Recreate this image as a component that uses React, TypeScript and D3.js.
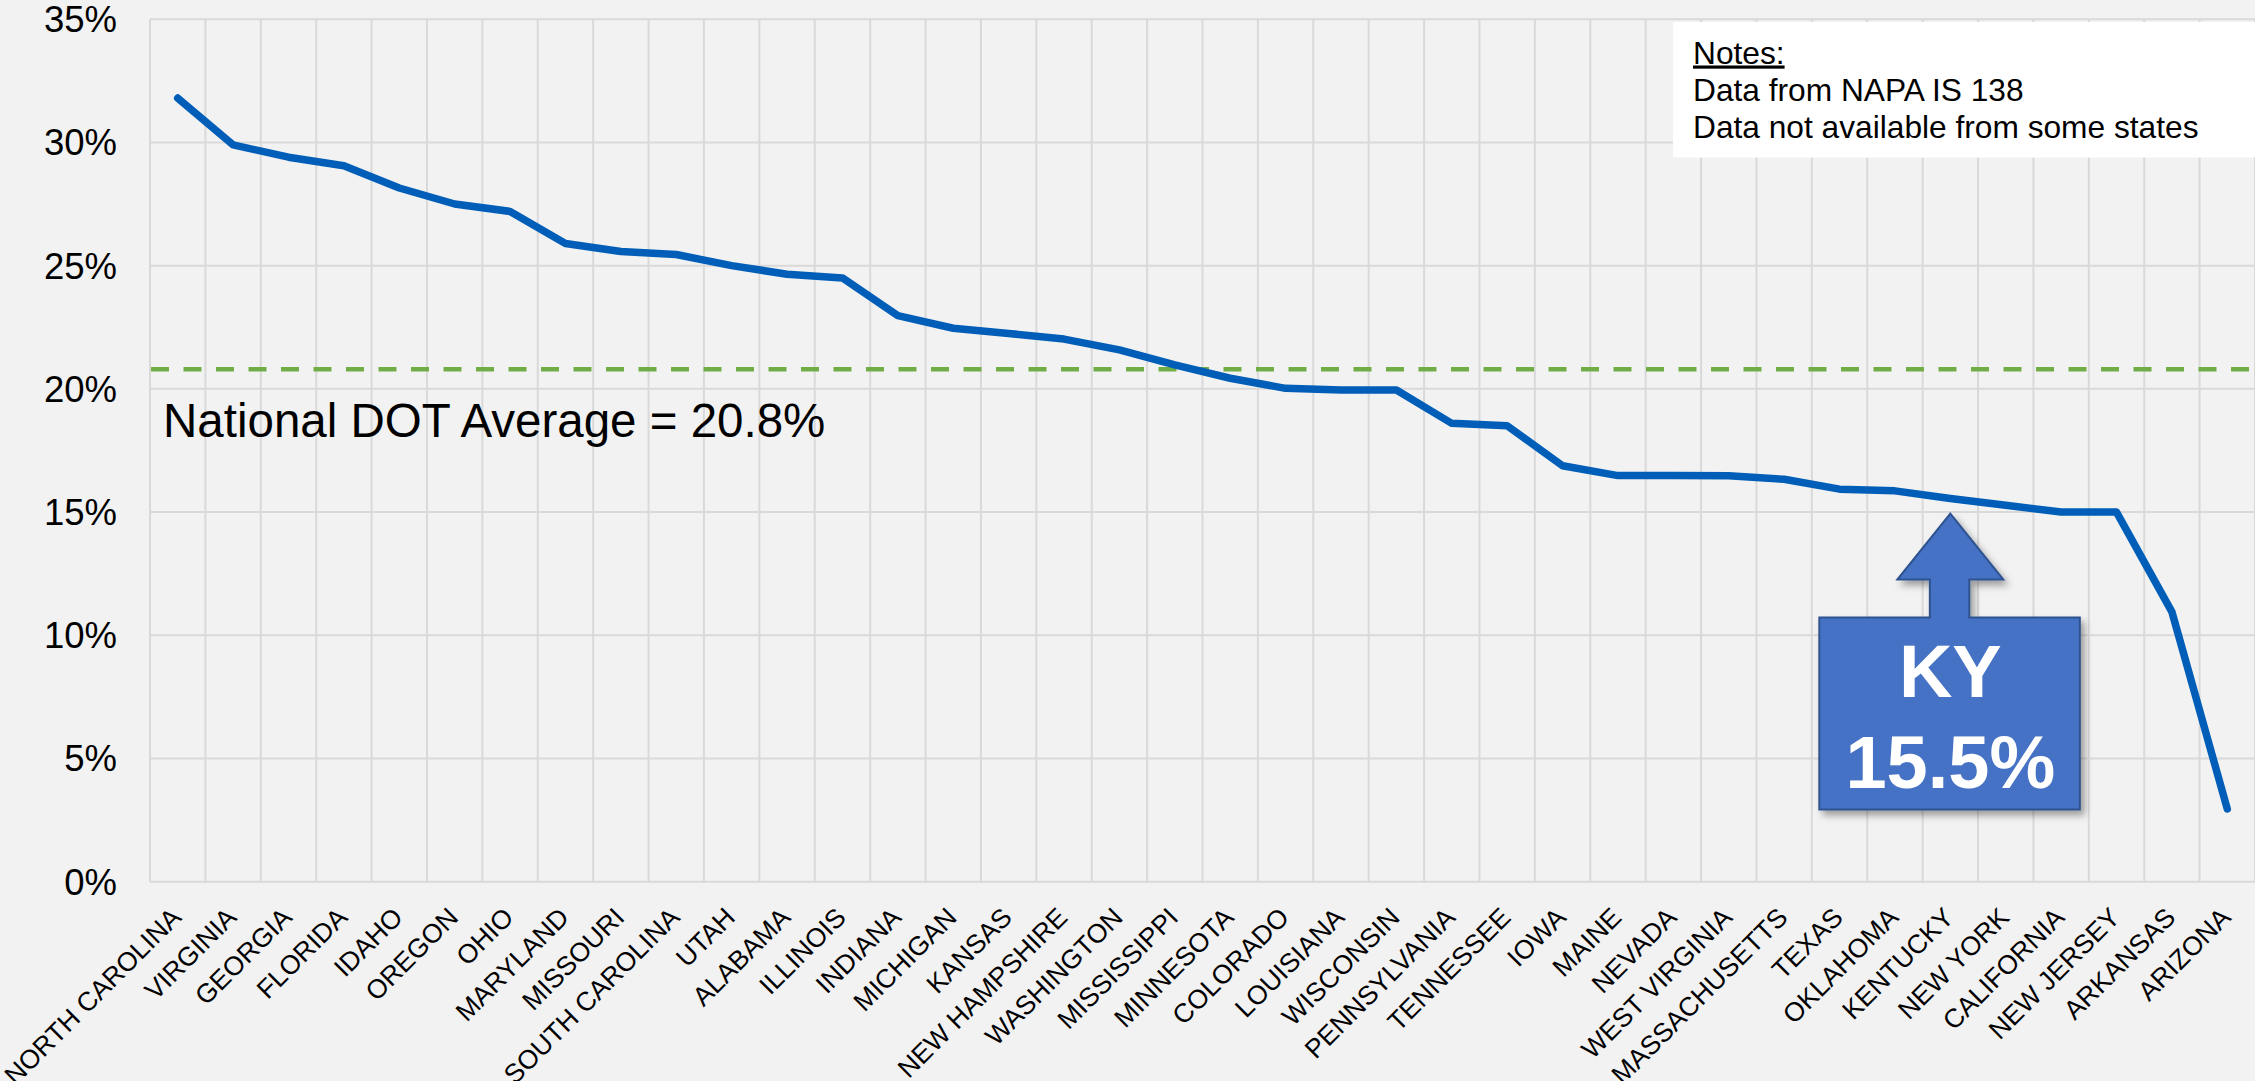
import React, { useEffect } from "react";
import * as d3 from "d3";

const states = [
  "NORTH CAROLINA", "VIRGINIA", "GEORGIA", "FLORIDA", "IDAHO", "OREGON", "OHIO",
  "MARYLAND", "MISSOURI", "SOUTH CAROLINA", "UTAH", "ALABAMA", "ILLINOIS", "INDIANA",
  "MICHIGAN", "KANSAS", "NEW HAMPSHIRE", "WASHINGTON", "MISSISSIPPI", "MINNESOTA",
  "COLORADO", "LOUISIANA", "WISCONSIN", "PENNSYLVANIA", "TENNESSEE", "IOWA", "MAINE",
  "NEVADA", "WEST VIRGINIA", "MASSACHUSETTS", "TEXAS", "OKLAHOMA", "KENTUCKY",
  "NEW YORK", "CALIFORNIA", "NEW JERSEY", "ARKANSAS", "ARIZONA",
];

const values = [
  31.8, 29.9, 29.4, 29.05, 28.15, 27.5, 27.2,
  25.9, 25.57, 25.45, 25.0, 24.65, 24.5, 22.97,
  22.46, 22.25, 22.02, 21.58, 20.97, 20.43,
  20.02, 19.95, 19.95, 18.6, 18.5, 16.88, 16.48,
  16.48, 16.47, 16.33, 15.93, 15.86, 15.55,
  15.28, 15.0, 15.0, 10.95, 2.95,
];

const yTicks = [0, 5, 10, 15, 20, 25, 30, 35];
const nationalAverage = 20.8;
const averageLabel = "National DOT Average = 20.8%";
const notesTitle = "Notes:";
const notesLines = ["Data from NAPA IS 138", "Data not available from some states"];
const highlightState = "KENTUCKY";
const highlightLabel = ["KY", "15.5%"];

const W = 2255;
const H = 1081;
const FONT = "'Liberation Sans', Arial, Helvetica, sans-serif";

export default function App() {
  useEffect(() => {
    document.body.style.margin = "0";
    document.body.style.overflow = "hidden";
  }, []);

  const x = d3.scaleBand<string>().domain(states).range([150, 2255]).padding(0);
  const y = d3.scaleLinear().domain([0, 35]).range([881.7, 19.2]);
  const cx = (s: string) => (x(s) as number) + x.bandwidth() / 2;

  const line = d3
    .line<number>()
    .x((_, i) => cx(states[i]))
    .y((d) => y(d));

  const gridX = [...states.map((s) => x(s) as number), 2255];

  // KY callout geometry relative to the highlighted point
  const kx = cx(highlightState);
  const kv = values[states.indexOf(highlightState)];
  const tipY = y(kv) + 15;
  const headY = tipY + 66;
  const boxTop = tipY + 104;
  const boxBot = tipY + 296;
  const arrow = [
    [kx, tipY],
    [kx + 53, headY],
    [kx + 19, headY],
    [kx + 19, boxTop],
    [kx + 129.5, boxTop],
    [kx + 129.5, boxBot],
    [kx - 131, boxBot],
    [kx - 131, boxTop],
    [kx - 20.5, boxTop],
    [kx - 20.5, headY],
    [kx - 53, headY],
  ];

  return (
    <svg width={W} height={H} style={{ display: "block", background: "#F2F2F2" }} fontFamily={FONT}>
      <defs>
        <filter id="shadow" x="-20%" y="-20%" width="140%" height="140%">
          <feDropShadow dx="4" dy="5" stdDeviation="3.5" floodColor="#000" floodOpacity="0.35" />
        </filter>
      </defs>
      <rect x={0} y={0} width={W} height={H} fill="#F2F2F2" />

      {/* gridlines */}
      {yTicks.map((t) => (
        <line key={"h" + t} x1={150} x2={2255} y1={y(t)} y2={y(t)} stroke="#D9D9D9" strokeWidth={2} />
      ))}
      {gridX.map((gx, i) => (
        <line key={"v" + i} x1={gx} x2={gx} y1={y(35)} y2={y(0)} stroke="#D9D9D9" strokeWidth={2} />
      ))}

      {/* y axis labels */}
      {yTicks.map((t) => (
        <text key={"yl" + t} x={117} y={y(t) + 13} textAnchor="end" fontSize={36.5} fill="#000">
          {t + "%"}
        </text>
      ))}

      {/* x axis labels */}
      {states.map((s) => (
        <text
          key={"xl" + s}
          transform={`translate(${cx(s) + 5},${919}) rotate(-45)`}
          textAnchor="end"
          fontSize={26.5}
          fill="#000"
        >
          {s}
        </text>
      ))}

      {/* national average */}
      <line
        x1={151}
        x2={2255}
        y1={y(nationalAverage)}
        y2={y(nationalAverage)}
        stroke="#70AD47"
        strokeWidth={4.5}
        strokeDasharray="18 14.5"
      />
      <text x={163} y={437} fontSize={47.5} fill="#000">
        {averageLabel}
      </text>

      {/* data line */}
      <path
        d={line(values) || ""}
        fill="none"
        stroke="#005EB8"
        strokeWidth={7.5}
        strokeLinejoin="round"
        strokeLinecap="round"
      />

      {/* notes box */}
      <rect x={1673} y={22} width={2255 - 1673} height={135.5} fill="#FFFFFF" />
      <text x={1693} y={63.5} fontSize={31.7} fill="#000" textDecoration="underline">
        {notesTitle}
      </text>
      {notesLines.map((t, i) => (
        <text key={"n" + i} x={1693} y={101 + i * 36.5} fontSize={31.7} fill="#000">
          {t}
        </text>
      ))}

      {/* KY callout */}
      <polygon
        points={arrow.map((p) => p.join(",")).join(" ")}
        fill="#4472C4"
        stroke="#2F528F"
        strokeWidth={2}
        filter="url(#shadow)"
      />
      <text x={kx} y={tipY + 183} textAnchor="middle" fontSize={74} fontWeight="bold" fill="#FFFFFF">
        {highlightLabel[0]}
      </text>
      <text x={kx} y={tipY + 274} textAnchor="middle" fontSize={74} fontWeight="bold" fill="#FFFFFF">
        {highlightLabel[1]}
      </text>
    </svg>
  );
}
